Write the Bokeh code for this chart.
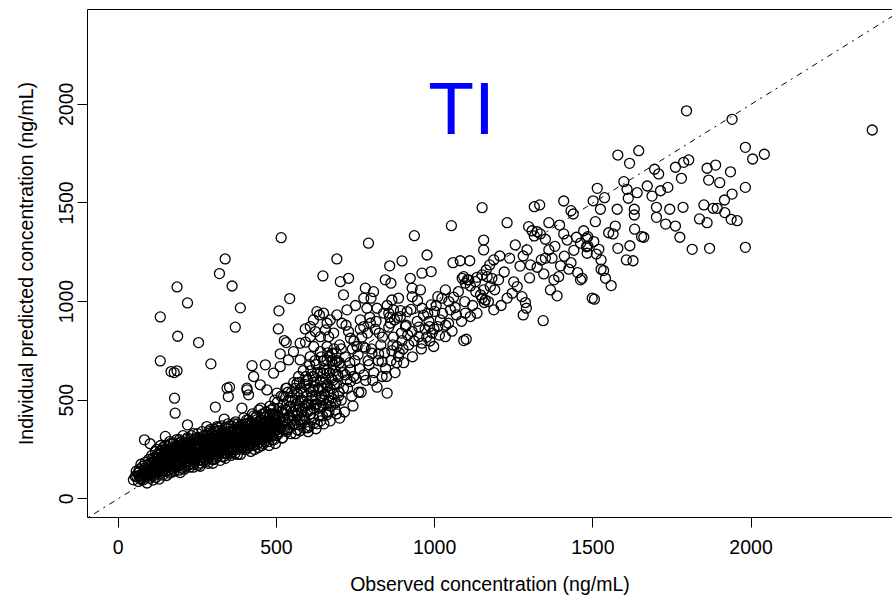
from bokeh.plotting import figure
from bokeh.models import Range1d, FixedTicker, LinearAxis, Slope, Label, ColumnDataSource
from bokeh.embed import file_html
from bokeh.resources import INLINE

# (observed, individual predicted) concentration pairs, ng/mL
band_pts = [(48,96),(54,113),(59,113),(64,88),(70,105),(75,120),(80,96),(85,130),(88,110),(91,80),(95,150),(98,125),(101,105),(104,170),(108,140),(110,95),(114,190),(116,120),(120,160),(122,210),(125,135),(128,180),(130,100),(132,240),(135,155),(138,200),(140,120),(142,260),(145,175),(148,220),(150,140),(152,190),(155,250),(158,160),(160,210),(162,130),(165,280),(168,185),(170,230),(172,150),(175,205),(178,260),(180,170),(182,220),(185,300),(188,190),(190,240),(192,145),(195,210),(198,270),(200,180),(202,230),(205,320),(208,200),(210,250),(212,160),(215,215),(218,280),(220,190),(222,240),(225,175),(228,300),(230,220),(232,260),(235,200),(238,330),(240,235),(242,185),(245,280),(248,215),(250,250),(252,170),(255,300),(258,230),(260,200),(262,265),(265,340),(268,240),(270,210),(272,290),(275,250),(278,190),(280,310),(282,230),(285,270),(288,215),(290,350),(292,250),(295,290),(298,200),(300,240),(302,320),(305,270),(308,225),(310,300),(312,255),(315,360),(318,280),(320,235),(322,310),(325,260),(328,215),(330,290),(332,340),(335,250),(338,300),(340,270),(342,230),(345,320),(348,280),(350,250),(352,370),(355,300),(358,260),(360,330),(362,240),(365,290),(368,350),(370,270),(372,310),(375,250),(378,380),(380,290),(382,330),(385,270),(388,300),(390,350),(392,260),(395,320),(398,290),(400,380),(402,310),(405,270),(408,340),(410,300),(412,400),(415,320),(418,280),(420,360),(422,300),(425,330),(428,420),(430,290),(432,350),(435,310),(438,380),(440,340),(442,300),(445,450),(448,360),(450,320),(452,400),(455,340),(458,300),(460,370),(462,430),(465,330),(468,390),(470,350),(472,310),(475,410),(478,360),(480,470),(482,330),(485,380),(488,430),(490,350),(492,400),(495,500),(498,370),(500,320),(502,420),(505,380),(508,460),(510,340),(512,400),(515,520),(518,370),(520,430),(522,480),(525,350),(528,400),(530,560),(532,450),(535,380),(538,500),(540,420),(542,360),(545,470),(548,540),(550,400),(552,440),(555,590),(558,380),(560,500),(562,450),(565,420),(568,530),(570,620),(572,470),(575,400),(578,560),(580,440),(582,500),(585,650),(588,420),(590,580),(592,470),(595,520),(598,440),(600,600),(602,480),(605,680),(608,430),(610,540),(612,500),(615,620),(618,460),(620,570),(622,700),(625,520),(628,480),(630,640),(632,550),(635,420),(638,600),(640,500),(642,720),(645,560),(648,470),(650,660),(652,530),(655,610),(658,440),(660,580),(662,740),(665,500),(668,640),(670,560),(672,470),(675,700),(678,600),(680,530),(682,760),(685,650),(688,490),(690,580),(692,700),(695,620),(698,540),(700,780),(560,330),(575,345),(590,360),(605,370),(620,385),(640,395)]

band_pts_2 = [(62,130),(67,150),(73,98),(78,165),(83,140),(86,185),(92,118),(97,200),(103,132),(106,220),(111,150),(117,240),(119,108),(124,190),(127,230),(131,145),(134,270),(137,175),(141,215),(144,150),(147,250),(151,205),(153,118),(157,230),(161,175),(163,290),(166,215),(169,135),(173,250),(176,180),(179,225),(183,160),(186,265),(189,210),(193,285),(196,170),(199,235),(203,195),(206,280),(209,150),(213,240),(216,195),(219,310),(223,225),(226,160),(229,265),(233,205),(236,290),(239,175),(243,250),(246,225),(249,310),(253,195),(256,270),(259,165),(263,240),(266,300),(269,190),(273,225),(276,275),(279,240),(283,330),(286,205),(289,260),(293,300),(296,230),(299,180),(303,280),(306,245),(309,340),(313,210),(316,300),(319,255),(323,195),(326,330),(329,270),(333,230),(336,310),(339,205),(343,290),(346,355),(349,240),(353,280),(356,220),(359,310),(363,265),(366,380),(369,230),(373,290),(376,340),(379,260),(383,310),(386,225),(389,375),(393,285),(396,250),(399,330),(403,290),(406,400),(409,260),(413,350),(416,300),(419,240),(423,380),(426,320),(429,270),(433,410),(436,290),(439,350),(443,260),(446,330),(449,390),(453,300),(456,430),(459,280),(463,360),(466,310),(469,420),(473,340),(476,290),(479,390),(483,450),(486,320),(489,370),(493,300),(496,430),(499,350),(503,490),(506,330),(509,410),(513,360),(516,440),(519,310),(523,520),(526,390),(529,450),(533,340),(536,540),(539,410),(543,470),(546,330),(549,510),(553,420),(556,380),(559,560),(563,480),(566,350),(569,430),(573,590),(576,500),(579,380),(583,460),(586,540),(589,400),(593,620),(596,480),(599,360),(603,560),(606,450),(609,650),(613,520),(616,410),(619,590),(623,480),(626,680),(629,380),(633,560),(636,460),(639,640),(643,520),(646,420),(649,700),(653,590),(656,480),(659,650),(663,540),(666,440),(669,720),(673,610),(676,510),(679,680),(683,580),(686,450),(689,740),(693,630),(696,520),(699,690)]

band_pts_3 = [(57,140),(66,118),(72,175),(79,130),(87,160),(93,140),(99,180),(105,115),(109,205),(113,160),(118,135),(121,250),(126,165),(129,210),(133,125),(136,245),(139,185),(143,140),(146,200),(149,270),(154,175),(156,215),(159,145),(164,245),(167,160),(171,205),(174,280),(177,140),(181,245),(184,195),(187,230),(191,170),(194,300),(197,215),(201,155),(204,260),(207,220),(211,185),(214,300),(217,230),(221,170),(224,270),(227,210),(231,320),(234,240),(237,160),(241,270),(244,200),(247,245),(251,330),(254,215),(257,265),(261,180),(264,290),(267,225),(271,320),(274,200),(277,260),(281,285),(284,180),(287,340),(291,225),(294,265),(297,310),(301,205),(304,350),(307,260),(311,230),(314,320),(317,270),(321,290),(324,240),(327,370),(331,260),(334,215),(337,330),(341,290),(344,250),(347,380),(351,300),(354,230),(357,340),(361,280),(364,320),(367,250),(371,390),(374,290),(377,225),(381,350),(384,300),(387,260),(391,330),(394,280),(397,410),(401,340),(404,250),(407,300),(411,370),(414,270),(417,330),(421,290),(424,430),(427,350),(431,250),(434,320),(437,400),(441,280),(444,360),(447,310),(451,460),(454,270),(457,380),(461,330),(464,290),(467,440),(471,370),(474,320),(477,270),(481,400),(484,350),(487,300),(491,460),(494,380),(497,280),(600,340),(625,355),(650,380),(670,395),(690,430),(715,440)]

band_pts_4 = [(68,140),(76,110),(84,155),(90,128),(96,170),(102,145),(107,185),(112,128),(115,205),(119,170),(123,145),(126,220),(130,185),(134,160),(137,230),(140,195),(144,170),(147,235),(150,205),(154,180),(157,265),(161,225),(164,190),(168,250),(171,210),(174,175),(178,240),(181,205),(184,270),(188,225),(191,195),(195,255),(198,220),(201,290),(205,235),(208,205),(212,270),(215,240),(219,210),(222,285),(226,250),(229,215),(233,275),(236,245),(240,300),(244,260),(247,230),(251,285),(255,245),(258,310),(262,270),(266,235),(270,300),(274,260),(278,320),(282,280),(286,245),(290,305),(294,270),(298,335),(302,290),(306,255),(310,320),(314,280),(318,345),(322,300),(326,270),(330,330),(334,295),(338,360),(342,310),(346,280),(350,340),(354,305),(358,370),(362,320),(366,290),(370,350),(374,315),(378,280),(382,360),(386,330),(390,300),(394,370),(398,335),(402,305),(406,380),(410,345),(414,315),(418,390),(422,350),(426,310),(430,375),(434,340),(438,420),(442,370),(446,330),(450,400),(455,365),(460,320),(465,410),(470,380),(475,345),(480,430),(485,395),(490,360),(495,420),(500,380)]

mid_pts = [(1150,1476),(1053,1385),(936,1334),(791,1296),(691,1216),(1229,1400),(1315,1481),(1332,1490),(1408,1510),(1431,1461),(1438,1444),(1361,1400),(1395,1388),(1297,1380),(1308,1359),(1324,1354),(1334,1343),(1350,1316),(1315,1333),(1408,1343),(1419,1312),(1448,1326),(1480,1321),(1461,1296),(1484,1282),(1606,1211),(1526,1164),(1505,1012),(1343,903),(1280,932),(1290,966),(1287,995),(1155,1312),(1155,1262),(1255,1287),(1292,1262),(1280,1231),(1237,1220),(1206,1231),(1187,1211),(1174,1186),(1163,1160),(1150,1135),(1134,1123),(1111,1207),(1081,1207),(1058,1197),(1092,1126),(1104,1110),(1113,1079),(1129,1101),(1166,1126),(1181,1118),(1202,1110),(1176,1076),(1155,1059),(1150,1017),(1157,995),(1187,958),(1134,941),(1113,924),(1097,941),(1100,809),(1092,802),(1034,822),(997,772),(992,840),(984,873),(976,1236),(989,1152),(960,1144),(923,1118),(897,1206),(858,1181),(844,1110),(862,1093),(807,1050),(781,1068),(776,1017),(799,1017),(818,966),(786,966),(765,907),(776,873),(797,890),(839,941),(858,921),(865,1008),(886,1017),(892,954),(873,907),(913,949),(929,1025),(946,1005),(955,1059),(929,1068),(960,966),(978,941),(989,983),(1010,1025),(1034,1059),(1023,1017),(1060,1022),(1050,958),(1069,932),(1044,890),(1018,907),(1010,873),(950,822),(960,789),(929,848),(908,873),(897,802),(881,772),(865,751),(886,721),(834,696),(823,735),(802,738),(781,764),(755,772),(734,814),(728,848),(707,890),(691,932),(723,958),(712,1034),(702,1101),(728,1118),(670,907),(681,840),(676,738),(686,696),(702,670),(734,654),(723,603),(744,620),(776,628),(834,620),(818,566),(850,536),(855,941),(870,958),(892,924),(860,890),(1087,1118),(1097,1093),(1108,1110),(1145,1034),(1160,1008),(1261,1076),(1245,1042),(1229,1017),(1276,1025),(1361,1262),(1371,1220),(1398,1181),(1424,1164),(1392,1126),(1377,1110),(1366,1059),(1387,1029),(1345,1140),(1324,1174),(1303,1186),(1337,1211),(1431,1197),(1452,1147),(1461,1110),(512,670),(538,704),(575,704),(607,721),(639,746),(660,772),(470,552),(502,536),(533,561),(565,586),(597,603),(618,620),(649,637),(565,536),(618,552),(660,569),(428,620),(407,561),(449,578),(491,637),(607,822),(639,822),(575,789),(618,772),(660,704),(665,822),(649,941),(628,949)]

mid_pts_2 = [(712,560),(748,700),(760,540),(770,820),(790,700),(805,600),(812,860),(830,780),(845,660),(870,820),(880,690),(900,760),(915,830),(930,720),(945,900),(970,860),(985,800),(1000,950),(740,760),(765,860),(795,920),(825,840),(850,980),(720,880),(750,980),(705,760)]

mid_pts_3 = [(705,500),(710,640),(718,720),(725,560),(732,690),(738,520),(745,800),(752,610),(758,730),(763,660),(768,540),(775,770),(782,600),(788,840),(793,680),(800,760),(808,640),(815,900),(822,700),(835,820),(842,740),(848,620),(855,870),(862,700),(868,780),(875,640),(882,920),(888,740),(895,840),(902,690),(910,880),(918,780),(925,960),(935,800),(950,870),(958,760),(965,930),(975,820),(982,900),(998,860),(1005,980),(1015,830),(1025,940),(1035,880),(1045,1000),(1055,850),(1065,970),(1075,1050),(1085,900),(1095,1000),(1120,980),(1130,1050),(1170,1000),(1190,1060),(1210,980),(1220,1150),(1250,1100),(1270,1180),(1300,1120),(1350,1220),(1380,1280),(1410,1230),(1440,1260)]

low_pts = [(515,1324),(338,1216),(320,1142),(360,1079),(186,1074),(219,993),(647,1130),(542,1015),(386,968),(508,953),(133,922),(370,870),(188,824),(254,792),(506,861),(525,802),(531,792),(592,794),(133,699),(167,645),(177,640),(186,649),(293,684),(423,675),(344,561),(352,566),(178,510),(465,679),(512,735),(554,746),(636,932),(617,907),(607,873),(591,861),(623,848),(660,890),(655,856),(180,434),(83,299),(101,279),(219,375),(307,465),(348,518),(407,552),(412,527),(335,404),(280,366),(312,366),(301,198),(196,133),(149,316),(391,460),(742,471),(686,485),(700,409),(660,426),(734,594),(718,628),(570,375),(533,350),(518,308),(581,400),(639,468),(649,502)]

high_pts = [(1796,1967),(1940,1924),(2383,1870),(1645,1765),(1579,1743),(1616,1701),(1982,1782),(2005,1723),(2042,1747),(1695,1671),(1708,1647),(1761,1681),(1787,1706),(1803,1718),(1861,1676),(1888,1692),(1935,1658),(1780,1625),(1866,1616),(1901,1603),(1982,1579),(1940,1545),(1916,1515),(1598,1608),(1608,1569),(1612,1524),(1640,1552),(1672,1586),(1687,1535),(1714,1562),(1737,1579),(1514,1574),(1537,1527),(1501,1511),(1524,1468),(1577,1468),(1631,1468),(1631,1439),(1701,1478),(1743,1468),(1785,1478),(1851,1490),(1880,1473),(1893,1473),(1917,1451),(1937,1417),(1956,1410),(1701,1427),(1730,1393),(1761,1383),(1775,1326),(1837,1419),(1861,1400),(1508,1405),(1571,1383),(1550,1349),(1564,1343),(1632,1367),(1654,1329),(1661,1326),(1617,1283),(1579,1270),(1627,1207),(1814,1265),(1869,1270),(1982,1275),(1471,1359),(1484,1329),(1503,1304),(1480,1278),(1519,1265),(1482,1245),(1511,1241),(1526,1211),(1534,1157),(1540,1118),(1558,1081),(1466,1118),(1498,1017)]

x_ticks = [0, 500, 1000, 1500, 2000]
y_ticks = [0, 500, 1000, 1500, 2000]
title_text = "TI"
x_label = "Observed concentration (ng/mL)"
y_label = "Individual predicted concentration (ng/mL)"

all_pts = (band_pts + band_pts_2 + band_pts_3 + band_pts_4 + mid_pts + mid_pts_2 + mid_pts_3
           + low_pts + high_pts)
src = ColumnDataSource(data=dict(obs=[p[0] for p in all_pts], pred=[p[1] for p in all_pts]))

FONT = "Liberation Sans"
FS = "19.5px"

p = figure(width=892, height=602, output_backend="svg", toolbar_location=None,
           x_range=Range1d(-97, 2447), y_range=Range1d(-95, 2481),
           min_border_left=87, min_border_right=0, min_border_top=9, min_border_bottom=85,
           x_axis_location="below", y_axis_location="left")
p.outline_line_color = None
p.grid.visible = False
p.background_fill_color = "white"
p.border_fill_color = "white"

for ax, ticks in ((p.xaxis[0], x_ticks), (p.yaxis[0], y_ticks)):
    ax.ticker = FixedTicker(ticks=ticks)
    ax.minor_tick_line_color = None
    ax.major_tick_in = 0
    ax.major_tick_out = 10
    ax.major_tick_line_color = "black"
    ax.axis_line_color = "black"
    ax.major_label_text_font = FONT
    ax.major_label_text_font_size = FS
    ax.major_label_text_color = "black"
    ax.axis_label_text_font = FONT
    ax.axis_label_text_font_size = FS
    ax.axis_label_text_font_style = "normal"
    ax.axis_label_text_color = "black"

p.xaxis[0].axis_label = x_label
p.xaxis[0].major_label_standoff = 12
p.xaxis[0].axis_label_standoff = 16
p.yaxis[0].axis_label = y_label
p.yaxis[0].major_label_orientation = "vertical"
p.yaxis[0].major_label_standoff = 4
p.yaxis[0].axis_label_standoff = 20

top = LinearAxis(ticker=FixedTicker(ticks=[]), axis_line_color="black",
                 major_tick_out=0, major_tick_in=0, minor_tick_out=0, minor_tick_in=0,
                 major_label_text_font_size="0px")
p.add_layout(top, "above")

p.add_layout(Slope(gradient=1, y_intercept=0, line_color="black", line_width=1,
                   line_dash="2 5 6 5"))

p.scatter("obs", "pred", source=src, marker="circle", size=10,
          fill_color=None, line_color="black", line_width=1.3)

p.add_layout(Label(x=1085, y=1983, text=title_text, text_font=FONT, text_font_size="75px",
                   text_color="#0000FF", text_align="center", text_baseline="alphabetic"))

open("out.html", "w").write(file_html(p, INLINE))
